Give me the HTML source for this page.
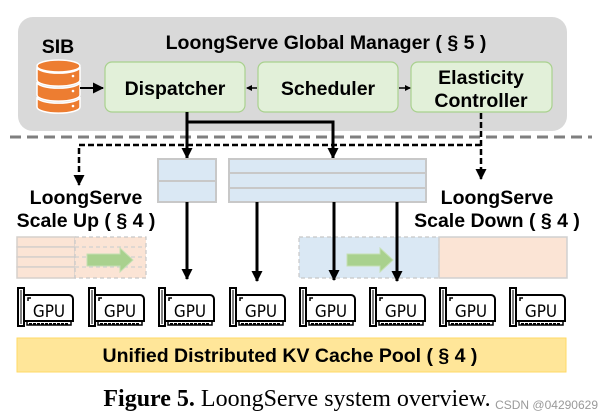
<!DOCTYPE html>
<html><head><meta charset="utf-8"><style>
html,body{margin:0;padding:0;background:#fff;}
svg{display:block;}
.b{font-family:"Liberation Sans",sans-serif;font-weight:bold;}
</style></head><body>
<svg width="605" height="419" viewBox="0 0 605 419" xmlns="http://www.w3.org/2000/svg">
<defs>
<marker id="ah" markerWidth="11" markerHeight="11" refX="10" refY="5.5" orient="auto" markerUnits="userSpaceOnUse"><path d="M0,0 L11,5.5 L0,11 z" fill="#000"/></marker>
<marker id="ahs" markerWidth="6" markerHeight="6" refX="5" refY="3" orient="auto" markerUnits="userSpaceOnUse"><path d="M0,0 L6,3 L0,6 z" fill="#000"/></marker>
<g id="gpu">
<path d="M1,1 h6 v38 h-6 z M1,6 h-1 M1,14 h-1" fill="none" stroke="#000" stroke-width="2"/>
<line x1="4" y1="3" x2="4" y2="37" stroke="#000" stroke-width="1"/>
<path d="M7,8 h45 a4,4 0 0 1 4,4 v22 h-49" fill="none" stroke="#000" stroke-width="2"/>
<path d="M11,14 v-3 h3" fill="none" stroke="#000" stroke-width="1.5"/>
<path d="M10,35 v3 h44 v-3" fill="none" stroke="#000" stroke-width="1.5"/>
<line x1="12" y1="37" x2="52" y2="37" stroke="#000" stroke-width="2" stroke-dasharray="3,1"/>
<text x="32" y="30" font-family="'DejaVu Sans Condensed','Liberation Sans Narrow','Liberation Sans',sans-serif" font-size="17" text-anchor="middle" fill="#000">GPU</text>
</g>
</defs>

<rect x="18" y="17" width="549" height="114" rx="15" fill="#d9d9d9"/>
<text x="326" y="49" class="b" font-size="19.5" text-anchor="middle">LoongServe Global Manager ( § 5 )</text>
<text x="58" y="53" class="b" font-size="19.5" text-anchor="middle">SIB</text>
<g fill="#ed7d31" stroke="#fff" stroke-width="1.5">
<path d="M37,97 v10 a21,6 0 0 0 43,0 v-10 a21,6 0 0 1 -43,0 z"/>
<path d="M37,82 v13 a21,6 0 0 0 43,0 v-13 a21,6 0 0 1 -43,0 z"/>
<path d="M37,67 v13 a21,6 0 0 0 43,0 v-13 a21,6 0 0 1 -43,0 z"/>
<ellipse cx="58.5" cy="66" rx="21.5" ry="6"/>
</g>
<circle cx="73" cy="76" r="1.3" fill="#fff"/><circle cx="73" cy="91" r="1.3" fill="#fff"/><circle cx="73" cy="106" r="1.3" fill="#fff"/>

<rect x="105" y="62" width="140" height="50" rx="7" fill="#e2f0d9" stroke="#a9d18e" stroke-width="1.2"/>
<rect x="258" y="62" width="140" height="50" rx="7" fill="#e2f0d9" stroke="#a9d18e" stroke-width="1.2"/>
<rect x="411" y="62" width="141" height="50" rx="7" fill="#e2f0d9" stroke="#a9d18e" stroke-width="1.2"/>
<text x="175" y="95" class="b" font-size="19.5" text-anchor="middle">Dispatcher</text>
<text x="328" y="95" class="b" font-size="19.5" text-anchor="middle">Scheduler</text>
<text x="481" y="84" class="b" font-size="19.5" text-anchor="middle">Elasticity</text>
<text x="481" y="107" class="b" font-size="19.5" text-anchor="middle">Controller</text>

<line x1="80" y1="88" x2="103" y2="88" stroke="#000" stroke-width="2" marker-end="url(#ah)"/>
<line x1="257" y1="88" x2="247" y2="88" stroke="#000" stroke-width="1.5" marker-end="url(#ahs)"/>
<line x1="399" y1="88" x2="410" y2="88" stroke="#000" stroke-width="1.5" marker-end="url(#ahs)"/>

<line x1="10" y1="137" x2="592" y2="137" stroke="#7f7f7f" stroke-width="3" stroke-dasharray="11,6"/>

<path d="M187,112 V158" fill="none" stroke="#000" stroke-width="3" marker-end="url(#ah)"/>
<path d="M187,122 H333 V158" fill="none" stroke="#000" stroke-width="3" marker-end="url(#ah)"/>

<path d="M481,145 H79 V185" fill="none" stroke="#000" stroke-width="2.5" stroke-dasharray="6,3" marker-end="url(#ah)"/>
<path d="M481,113 V179" fill="none" stroke="#000" stroke-width="2.5" stroke-dasharray="6,3" marker-end="url(#ah)"/>

<g fill="#dae8f4" stroke="#c8c8c8" stroke-width="2">
<rect x="158" y="159" width="58" height="22"/><rect x="158" y="181" width="58" height="21"/>
<rect x="229" y="159" width="197" height="14"/><rect x="229" y="173" width="197" height="15"/><rect x="229" y="188" width="197" height="14"/>
</g>

<text x="86" y="204" class="b" font-size="19.5" text-anchor="middle">LoongServe</text>
<text x="86" y="227" class="b" font-size="19.5" text-anchor="middle">Scale Up ( § 4 )</text>
<text x="497" y="204" class="b" font-size="19.5" text-anchor="middle">LoongServe</text>
<text x="497" y="227" class="b" font-size="19.5" text-anchor="middle">Scale Down ( § 4 )</text>

<g fill="#fbe4d5" stroke="#d6d0cc" stroke-width="1.5">
<rect x="17" y="237" width="58" height="10"/><rect x="17" y="247" width="58" height="10"/><rect x="17" y="257" width="58" height="10"/><rect x="17" y="267" width="58" height="11"/>
</g>
<rect x="75" y="237" width="71" height="41" fill="#fbe4d5" stroke="#c8c8c8" stroke-width="1.2" stroke-dasharray="4,3"/>
<g stroke="#d0d0d0" stroke-width="1.2" stroke-dasharray="4,3"><line x1="75" y1="247" x2="146" y2="247"/><line x1="75" y1="257" x2="146" y2="257"/><line x1="75" y1="267" x2="146" y2="267"/></g>
<path d="M87,254 H120 V248 L133,260 L120,272 V266 H87 z" fill="#a9d18e" stroke="#c5e0b4" stroke-width="1"/>

<rect x="299" y="237" width="140" height="41" fill="#dae8f4" stroke="#c8c8c8" stroke-width="1.2" stroke-dasharray="4,3"/>
<rect x="439" y="237" width="128" height="41" fill="#fbe4d5" stroke="#d0d0d0" stroke-width="1.5"/>
<path d="M347,254 H380 V248 L393,260 L380,272 V266 H347 z" fill="#a9d18e" stroke="#c5e0b4" stroke-width="1"/>

<g stroke="#000" stroke-width="3" marker-end="url(#ah)">
<line x1="187" y1="202" x2="187" y2="279"/>
<line x1="257" y1="202" x2="257" y2="281"/>
<line x1="334" y1="202" x2="334" y2="280"/>
<line x1="397" y1="202" x2="397" y2="281"/>
</g>

<use href="#gpu" x="17" y="287"/>
<use href="#gpu" x="88" y="287"/>
<use href="#gpu" x="158" y="287"/>
<use href="#gpu" x="229" y="287"/>
<use href="#gpu" x="299" y="287"/>
<use href="#gpu" x="369" y="287"/>
<use href="#gpu" x="439" y="287"/>
<use href="#gpu" x="509" y="287"/>

<rect x="17" y="338" width="549" height="34" fill="#ffe699" stroke="#ffd966" stroke-width="1"/>
<text x="290" y="362" class="b" font-size="19.5" text-anchor="middle">Unified Distributed KV Cache Pool ( § 4 )</text>

<text x="297" y="406" font-family="'Liberation Serif',serif" font-size="24" text-anchor="middle"><tspan font-weight="bold">Figure 5.</tspan> LoongServe system overview.</text>
<text x="598" y="409" font-family="'Liberation Sans',sans-serif" font-size="12" text-anchor="end" fill="#9a9a9a">CSDN @04290629</text>
</svg>
</body></html>
